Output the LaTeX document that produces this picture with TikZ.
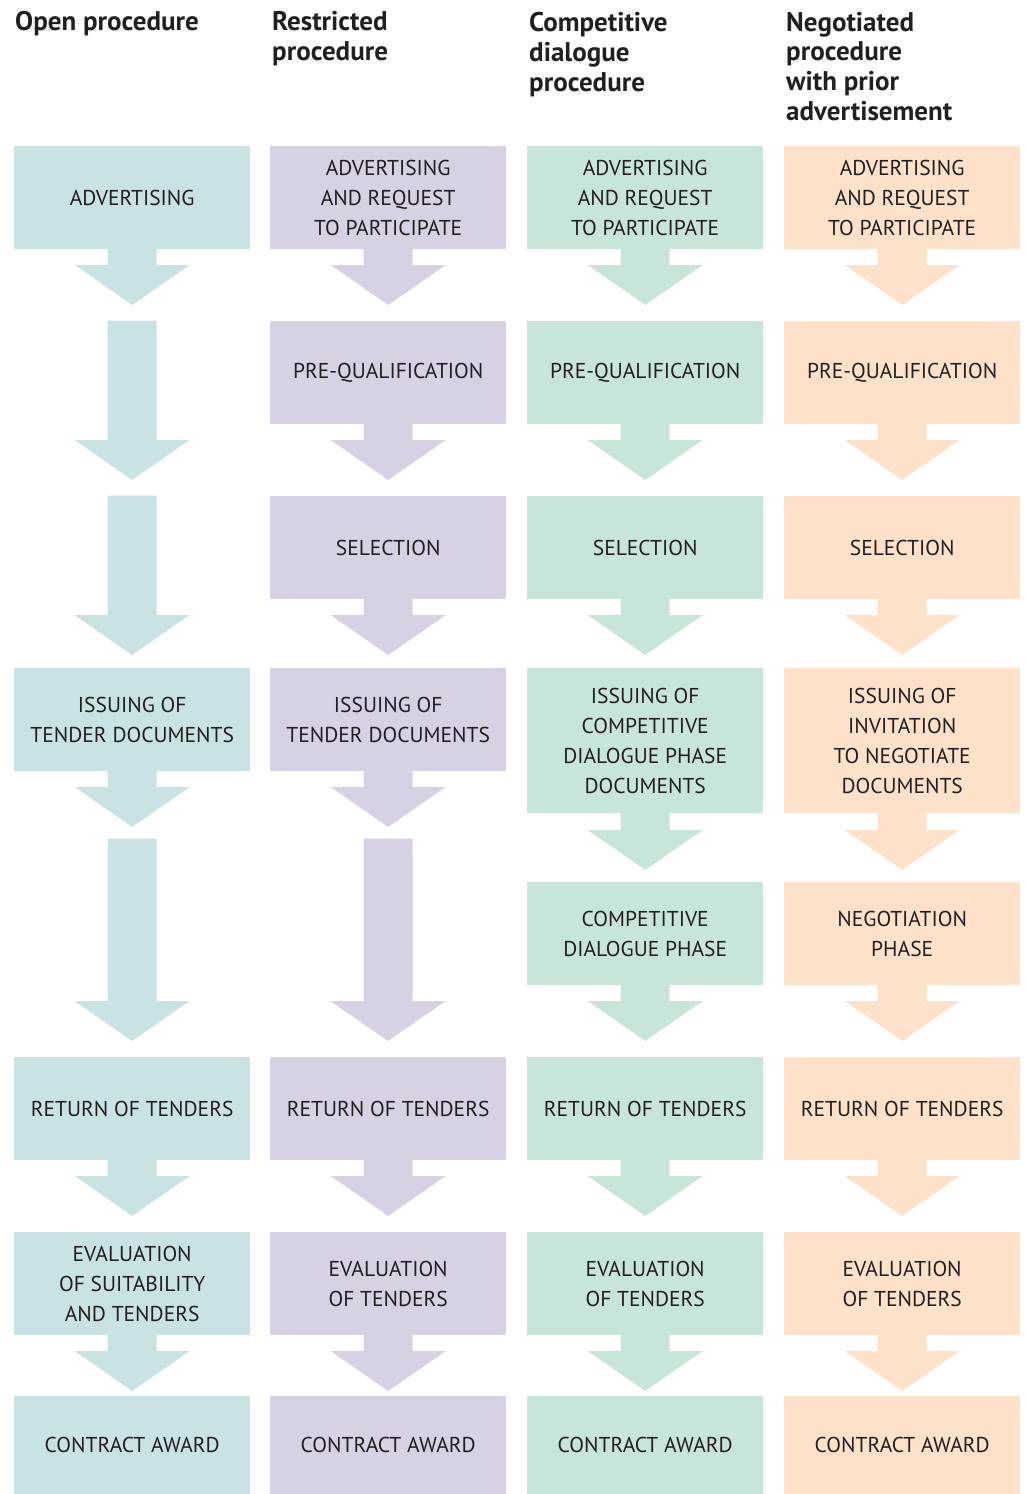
\documentclass[tikz,border=0pt]{standalone}
\usepackage{fontspec}
\setmainfont{PT Sans}
\usetikzlibrary{calc}

\definecolor{ink}{HTML}{231F20}
\definecolor{openC}{HTML}{C9E3E4}
\definecolor{restC}{HTML}{D8D0E3}
\definecolor{compC}{HTML}{C8E6D7}
\definecolor{negoC}{HTML}{FDE1C9}

% block arrow: colour, top point, absolute y of the tip (measured downwards)
\newcommand\blockarrow[3]{%
  \fill[#1] let \p1=(#2) in
    (\x1-24.5pt,\y1+0.5pt) -- (\x1+24.5pt,\y1+0.5pt) -- (\x1+24.5pt,-#3pt+40pt)
    -- (\x1+57.5pt,-#3pt+40pt) -- (\x1,-#3pt) -- (\x1-57.5pt,-#3pt+40pt)
    -- (\x1-24.5pt,-#3pt+40pt) -- cycle;}

\begin{document}
\begin{tikzpicture}[x=1pt,y=1pt,
  stage/.style={rectangle, inner sep=0pt, anchor=north west,
    minimum width=236pt, minimum height=103pt, align=center,
    text=ink, font=\fontsize{21.5}{30}\selectfont},
  tall/.style={minimum height=145pt},
  heading/.style={anchor=base west, inner sep=0pt, text=ink,
    font=\fontsize{27}{30}\selectfont\bfseries}]
\useasboundingbox (0,0) rectangle (1026,-1494);

% column headings
\node[heading] (h1) at (15,-30) {\vtop{\baselineskip=30pt\hbox{Open procedure}}};
\node[heading] (h2) at (272,-30) {\vtop{\baselineskip=30pt\hbox{Restricted}\hbox{procedure}}};
\node[heading] (h3) at (529,-31) {\vtop{\baselineskip=30pt\hbox{Competitive}\hbox{dialogue}\hbox{procedure}}};
\node[heading] (h4) at (786,-31) {\vtop{\baselineskip=29.7pt\hbox{Negotiated}\hbox{procedure}\hbox{with prior}\hbox{advertisement}}};

% ---------- open procedure ----------
\node[stage, fill=openC] (o1) at (14,-146) {ADVERTISING};
\node[stage, fill=openC] (o4) at (14,-668) {ISSUING OF\\TENDER DOCUMENTS};
\node[stage, fill=openC] (o6) at (14,-1057) {RETURN OF TENDERS};
\node[stage, fill=openC] (o7) at (14,-1232) {EVALUATION\\OF SUITABILITY\\AND TENDERS};
\node[stage, fill=openC, minimum height=98pt] (o8) at (14,-1396) {CONTRACT AWARD};
\coordinate (os2) at (132,-321);
\coordinate (os3) at (132,-496);
\coordinate (os5) at (132,-839);
\blockarrow{openC}{o1.south}{305}
\blockarrow{openC}{os2}{480}
\blockarrow{openC}{os3}{655}
\blockarrow{openC}{o4.south}{827}
\blockarrow{openC}{os5}{1041}
\blockarrow{openC}{o6.south}{1216}
\blockarrow{openC}{o7.south}{1391}

% ---------- restricted procedure ----------
\node[stage, fill=restC] (r1) at (270,-146) {ADVERTISING\\AND REQUEST\\TO PARTICIPATE};
\node[stage, fill=restC] (r2) at (270,-321) {PRE-QUALIFICATION};
\node[stage, fill=restC] (r3) at (270,-496) {SELECTION};
\node[stage, fill=restC] (r4) at (270,-668) {ISSUING OF\\TENDER DOCUMENTS};
\node[stage, fill=restC] (r6) at (270,-1057) {RETURN OF TENDERS};
\node[stage, fill=restC] (r7) at (270,-1232) {EVALUATION\\OF TENDERS};
\node[stage, fill=restC, minimum height=98pt] (r8) at (270,-1396) {CONTRACT AWARD};
\coordinate (rs5) at (388,-839);
\blockarrow{restC}{r1.south}{305}
\blockarrow{restC}{r2.south}{480}
\blockarrow{restC}{r3.south}{655}
\blockarrow{restC}{r4.south}{827}
\blockarrow{restC}{rs5}{1041}
\blockarrow{restC}{r6.south}{1216}
\blockarrow{restC}{r7.south}{1391}

% ---------- competitive dialogue procedure ----------
\node[stage, fill=compC] (c1) at (527,-146) {ADVERTISING\\AND REQUEST\\TO PARTICIPATE};
\node[stage, fill=compC] (c2) at (527,-321) {PRE-QUALIFICATION};
\node[stage, fill=compC] (c3) at (527,-496) {SELECTION};
\node[stage, fill=compC, tall] (c4) at (527,-668) {ISSUING OF\\COMPETITIVE\\DIALOGUE PHASE\\DOCUMENTS};
\node[stage, fill=compC] (c5) at (527,-882) {COMPETITIVE\\DIALOGUE PHASE};
\node[stage, fill=compC] (c6) at (527,-1057) {RETURN OF TENDERS};
\node[stage, fill=compC] (c7) at (527,-1232) {EVALUATION\\OF TENDERS};
\node[stage, fill=compC, minimum height=98pt] (c8) at (527,-1396) {CONTRACT AWARD};
\blockarrow{compC}{c1.south}{305}
\blockarrow{compC}{c2.south}{480}
\blockarrow{compC}{c3.south}{655}
\blockarrow{compC}{c4.south}{870}
\blockarrow{compC}{c5.south}{1041}
\blockarrow{compC}{c6.south}{1216}
\blockarrow{compC}{c7.south}{1391}

% ---------- negotiated procedure ----------
\node[stage, fill=negoC] (n1) at (784,-146) {ADVERTISING\\AND REQUEST\\TO PARTICIPATE};
\node[stage, fill=negoC] (n2) at (784,-321) {PRE-QUALIFICATION};
\node[stage, fill=negoC] (n3) at (784,-496) {SELECTION};
\node[stage, fill=negoC, tall] (n4) at (784,-668) {ISSUING OF\\INVITATION\\TO NEGOTIATE\\DOCUMENTS};
\node[stage, fill=negoC] (n5) at (784,-882) {NEGOTIATION\\PHASE};
\node[stage, fill=negoC] (n6) at (784,-1057) {RETURN OF TENDERS};
\node[stage, fill=negoC] (n7) at (784,-1232) {EVALUATION\\OF TENDERS};
\node[stage, fill=negoC, minimum height=98pt] (n8) at (784,-1396) {CONTRACT AWARD};
\blockarrow{negoC}{n1.south}{305}
\blockarrow{negoC}{n2.south}{480}
\blockarrow{negoC}{n3.south}{655}
\blockarrow{negoC}{n4.south}{870}
\blockarrow{negoC}{n5.south}{1041}
\blockarrow{negoC}{n6.south}{1216}
\blockarrow{negoC}{n7.south}{1391}
\end{tikzpicture}
\end{document}
